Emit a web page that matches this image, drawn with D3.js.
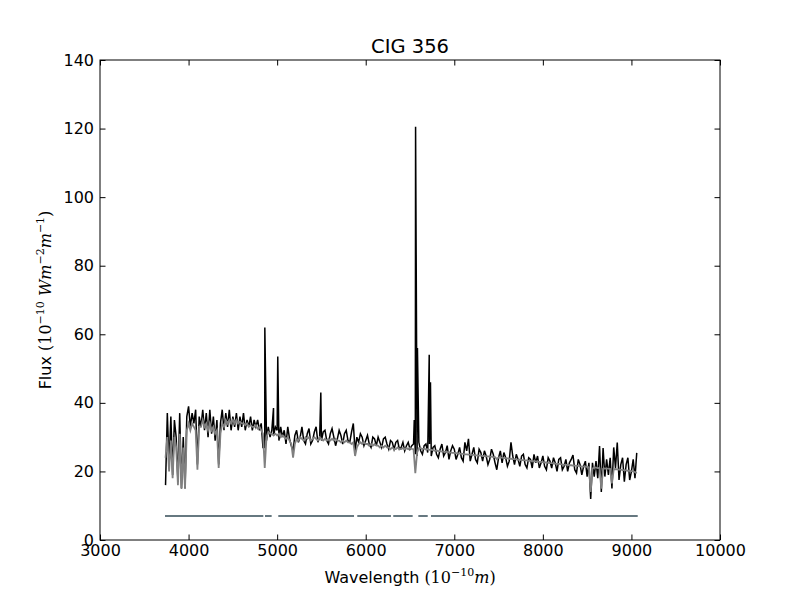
<!DOCTYPE html>
<html>
<head>
<meta charset="utf-8">
<script src="https://cdn.jsdelivr.net/npm/d3@7/dist/d3.min.js"></script>
<style>
body { margin: 0; background: #fff; }
</style>
</head>
<body>
<script>
// spectrum sampled on a regular grid (Angstrom)
var waveStart = 3740, waveStep = 20;

// observed continuum flux (black), 3740 .. 9060
var fluxObs = [
    16,37,22,36,19,35,30,17,37,15,        // 3740
    30,15,36,39,33,37,34,38,22,36,        // 3940
    33,38,32,37,30,38,31,36,29,35,        // 4140
    22,34,38,32,37,33,38,32,36,33,        // 4340
    37,32,36,33,37,32,35,33,36,32,        // 4540
    35,33,35,32,34,27,27,29,33,30,        // 4740
    32,30.5,33,32,29,33,30,32,28,33,      // 4940
    29.5,27.5,26,30.5,32,28.5,30,33,29,28,      // 5140
    31,32.5,28,29,31.5,33,28.5,30,29,31.5,      // 5340
    32,29,28,31,32.5,30,27.5,29.5,32,30.5,      // 5540
    28,31,32,29,28.5,31.5,34,26,30,28.5,        // 5740
    31,30,27.5,29,30.5,28,27,30,29.5,27.5,      // 5940
    30,28.5,27,29.5,30,28,26.5,29,28.5,26.5,    // 6140
    28.5,29,26.5,27,28.5,26,27.5,28.5,26.5,27.5, // 6340
    28,25,24.5,28.5,26,25,27.5,28,25.5,28,      // 6540
    24.5,27,27.5,25,24,26.5,28,24.5,25.5,27.5,  // 6740
    23.5,26,27.5,26.5,23.5,25,27,24,23,28.5,    // 6940
    26,29.5,23,25,27,23.5,22.5,26.5,25.5,23,    // 7140
    26,24.5,22,23.5,26.5,25,22.5,20.5,24,26,    // 7340
    22.5,25.5,24,21.5,23,28.5,24.5,22,25,23.5,  // 7540
    21.5,24.5,25,22,21,24,23.5,21,25,22.5,      // 7740
    24.5,21,22.5,24.5,21.5,20.5,24,23,21,24,    // 7940
    22.5,20,23.5,24,20.5,21.5,23.5,20,22.5,23.5, // 8140
    24.8,20.5,19.5,23.5,22,19,21.5,23,18.5,22.5, // 8340
    12,22.5,18.5,23,18,27.4,14,26.8,18.5,23.5,  // 8540
    19,24,15,27,21,28.4,17.5,22,24,17,          // 8740
    22,24,17.5,20,23.5,18,25.4                  // 8940
];

// emission lines on top of the observed continuum
var lineWave = [4861, 4959, 5007, 5493, 6548, 6563, 6584, 6717, 6731];
var linePeak = [62, 38.5, 53.5, 43, 35, 120.5, 56, 54, 46];

// fitted model (grey), same grid
var fluxModel = [
    24,30,20,29,18,30,27,16,31,15,
    27,15,32,34,32,34,33,32,20.5,33,
    33,35,33,34,32,34,32,33,31,32,
    21,31,34,33,35,34,35,34,35,34,
    35,34,34.5,34,34,33.5,34,33,33.5,33,
    33,33.5,32.5,33,32,31,21,30,31.5,31,
    31,30.5,31,30.5,31,30,30.5,30,29.5,30,
    29,28,24,28,29.5,29,30,29.5,29,30,
    29.5,30,29,29.5,30,29.5,29,30,29.5,29,
    29.5,29,29.5,29,29.5,29,29.5,29,29,28.5,
    29,28.5,29,28.5,28.5,28,28.5,24.5,27,28,
    28.5,28,28.5,28,28,27.5,28,27.5,28,27.5,
    27.5,27,27.5,27,27.5,27,27,26.5,27,26.5,
    26.5,27,26.5,26.5,26.8,26.5,26.8,26.5,26.8,26.6,
    26.5,19.5,25.5,26.8,26.8,26.5,26.7,26.4,26.5,26.3,
    26.3,26.2,26,26.1,25.9,26,25.8,25.8,25.7,25.6,
    25.6,25.5,25.4,25.4,25.3,25.3,25.2,25.1,25.1,25,
    25,24.9,24.9,24.8,24.8,24.7,24.7,24.6,24.6,24.5,
    24.5,24.4,24.4,24.3,24.3,24.2,24.2,23.6,24.1,24,
    24,23.9,23.9,23.8,23.7,23.7,23.6,23.6,23.5,23.4,
    23.4,23.3,23.3,23.2,23.2,23.1,23.1,23,23,22.9,
    22.9,22.8,22.8,22.7,22.6,22.6,22.5,22.4,22.4,22.3,
    22.3,22.2,22.2,22.1,22,22,21.9,21.9,21.8,21.8,
    21.7,21.7,21.6,21.6,21.5,21.5,21.4,21.4,21.3,21.2,
    14,20.8,21.2,21.1,21,20.9,15,20.8,20.9,20.8,
    20.8,20.7,16.5,20.6,20.7,20.6,20.5,20.5,20.4,20.4,
    20.3,20.2,20.2,20.1,20,19.8,19.5
];

// fitted wavelength windows (the flat line near the bottom)
var maskStart = [3734, 4863, 5013, 5905, 6311, 6594, 6737];
var maskEnd   = [4844, 4938, 5868, 6285, 6530, 6700, 9071];
var maskLevel = 7;

var xTicks = [3000, 4000, 5000, 6000, 7000, 8000, 9000, 10000];
var yTicks = [0, 20, 40, 60, 80, 100, 120, 140];

var W = 800, H = 600;
var mLeft = 100, mRight = 720, mTop = 60, mBottom = 540;
var font = "'DejaVu Sans', sans-serif";
var mathFont = "'DejaVu Serif', 'Liberation Serif', serif";

var svg = d3.select("body").append("svg")
    .attr("width", W)
    .attr("height", H)
    .style("background", "#fff");

var x = d3.scaleLinear().domain([3000, 10000]).range([mLeft, mRight]);
var y = d3.scaleLinear().domain([0, 140]).range([mBottom, mTop]);

var plot = svg.append("g");

plot.append("clipPath").attr("id", "clip")
    .append("rect")
    .attr("x", mLeft).attr("y", mTop)
    .attr("width", mRight - mLeft).attr("height", mBottom - mTop);

// observed = continuum grid + emission line peaks, sorted by wavelength
var obsPoints = fluxObs.map(function(f, i){ return [waveStart + i * waveStep, f]; })
    .concat(lineWave.map(function(w, i){ return [w, linePeak[i]]; }))
    .sort(function(a, b){ return a[0] - b[0]; });

var modelPoints = fluxModel.map(function(f, i){ return [waveStart + i * waveStep, f]; });

var line = d3.line()
    .x(function(d){ return x(d[0]); })
    .y(function(d){ return y(d[1]); });

// observed spectrum
plot.append("path")
    .datum(obsPoints)
    .attr("clip-path", "url(#clip)")
    .attr("d", line)
    .attr("fill", "none")
    .attr("stroke", "#000")
    .attr("stroke-width", 1.5);

// model on top
plot.append("path")
    .datum(modelPoints)
    .attr("clip-path", "url(#clip)")
    .attr("d", line)
    .attr("fill", "none")
    .attr("stroke", "#808080")
    .attr("stroke-width", 1.8);

// mask segments
plot.selectAll(".mask")
    .data(maskStart)
    .enter()
    .append("line")
    .attr("class", "mask")
    .attr("x1", function(d){ return x(d); })
    .attr("x2", function(d, i){ return x(maskEnd[i]); })
    .attr("y1", y(maskLevel))
    .attr("y2", y(maskLevel))
    .attr("stroke", "#667880")
    .attr("stroke-width", 2);

// axes, ticks pointing inwards on all four sides
var tick = 5.5;
var fmt = d3.format("d");
function styleAxis(g){
    g.select(".domain").remove();
    g.selectAll(".tick line").attr("stroke", "#000");
    g.selectAll("text")
        .attr("fill", "#000")
        .style("font-family", font)
        .style("font-size", "16px");
}

svg.append("g")
    .attr("transform", "translate(0," + mBottom + ")")
    .call(d3.axisBottom(x).tickValues(xTicks).tickFormat(fmt).tickSizeInner(-tick).tickSizeOuter(0).tickPadding(5))
    .call(styleAxis);

svg.append("g")
    .attr("transform", "translate(0," + mTop + ")")
    .call(d3.axisTop(x).tickValues(xTicks).tickSizeInner(-tick).tickSizeOuter(0).tickFormat(""))
    .call(styleAxis);

svg.append("g")
    .attr("transform", "translate(" + mLeft + ",0)")
    .call(d3.axisLeft(y).tickValues(yTicks).tickFormat(fmt).tickSizeInner(-tick).tickSizeOuter(0).tickPadding(6))
    .call(styleAxis);

svg.append("g")
    .attr("transform", "translate(" + mRight + ",0)")
    .call(d3.axisRight(y).tickValues(yTicks).tickSizeInner(-tick).tickSizeOuter(0).tickFormat(""))
    .call(styleAxis);

// frame
svg.append("rect")
    .attr("x", mLeft).attr("y", mTop)
    .attr("width", mRight - mLeft).attr("height", mBottom - mTop)
    .attr("fill", "none")
    .attr("stroke", "#000")
    .attr("stroke-width", 1);

// title
svg.append("text")
    .attr("x", (mLeft + mRight) / 2)
    .attr("y", 53)
    .attr("text-anchor", "middle")
    .style("font-family", font)
    .style("font-size", "19.5px")
    .text("CIG 356");

// x label: Wavelength (10^-10 m)
var xl = svg.append("text")
    .attr("x", (mLeft + mRight) / 2)
    .attr("y", 583)
    .attr("text-anchor", "middle")
    .style("font-family", font)
    .style("font-size", "16px");
xl.append("tspan").text("Wavelength ");
xl.append("tspan").style("font-family", mathFont).text("(10");
xl.append("tspan").style("font-family", mathFont).style("font-size", "11px").attr("dy", -7).text("\u221210");
xl.append("tspan").style("font-family", mathFont).style("font-style", "italic").attr("dy", 7).text("m");
xl.append("tspan").style("font-family", mathFont).text(")");

// y label: Flux (10^-10 W m^-2 m^-1)
var yl = svg.append("text")
    .attr("transform", "translate(51," + ((mTop + mBottom) / 2) + ") rotate(-90)")
    .attr("text-anchor", "middle")
    .style("font-family", font)
    .style("font-size", "16px");
yl.append("tspan").text("Flux ");
yl.append("tspan").style("font-family", mathFont).text("(10");
yl.append("tspan").style("font-family", mathFont).style("font-size", "11px").attr("dy", -7).text("\u221210");
yl.append("tspan").style("font-family", mathFont).style("font-style", "italic").attr("dy", 7).text(" Wm");
yl.append("tspan").style("font-family", mathFont).style("font-size", "11px").attr("dy", -7).text("\u22122");
yl.append("tspan").style("font-family", mathFont).style("font-style", "italic").attr("dy", 7).text("m");
yl.append("tspan").style("font-family", mathFont).style("font-size", "11px").attr("dy", -7).text("\u22121");
yl.append("tspan").style("font-family", mathFont).attr("dy", 7).text(")");
</script>
</body>
</html>
